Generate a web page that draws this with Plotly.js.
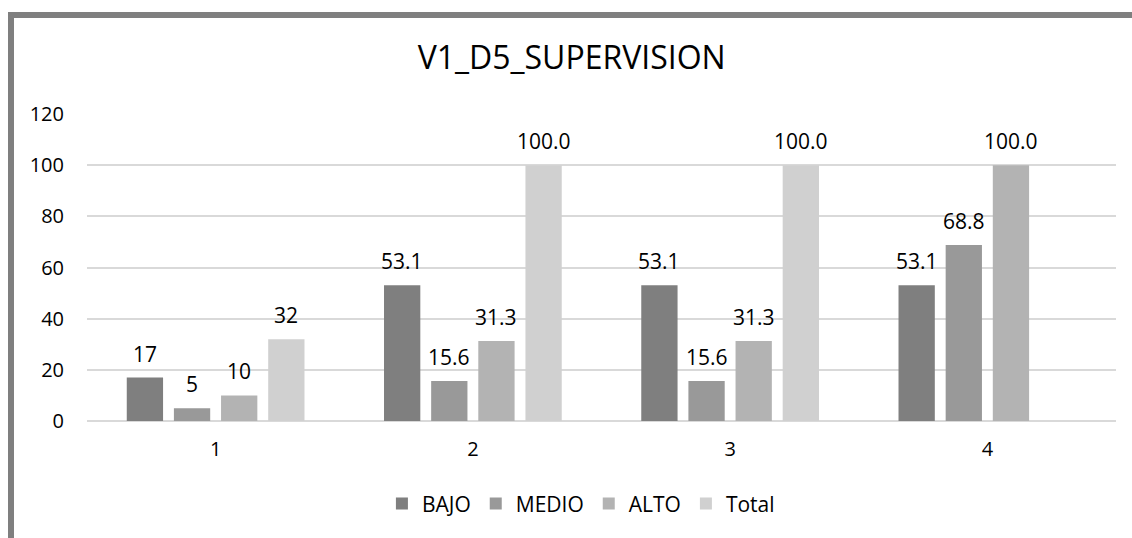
<!DOCTYPE html>
<html>
<head>
<meta charset="utf-8">
<script src="https://cdn.plot.ly/plotly-3.0.1.min.js"></script>
<style>
  html, body { margin: 0; padding: 0; background: #ffffff; }
  #wrap { position: relative; width: 1132px; height: 538px; overflow: hidden; }
  #chart { width: 1132px; height: 538px; }
  #frame { position: absolute; left: 8px; top: 12px; width: 1200px; height: 600px;
           border-left: 6px solid #7f7f7f; border-top: 6px solid #7f7f7f; pointer-events: none; }
</style>
</head>
<body>
<div id="wrap">
  <div id="chart"></div>
  <div id="frame"></div>
</div>
<script>
// ---- data ----
const categories = [1, 2, 3, 4];
const tickLabels = ["1", "2", "3", "4"];
const seriesNames = ["BAJO", "MEDIO", "ALTO", "Total"];
const bajo  = [17, 53.1, 53.1, 53.1];
const medio = [5, 15.6, 15.6, 68.8];
const alto  = [10, 31.3, 31.3, 100.0];
const total = [32, 100.0, 100.0, null];
const labelDecimals = [0, 1, 1, 1];
const colors = ["#7f7f7f", "#999999", "#b3b3b3", "#d0d0d0"];

const allSeries = [bajo, medio, alto, total];
const FONT = "Open Sans, Noto Sans, sans-serif";

const bargap = 0.267;
const bargroupgap = 0.23;

const traces = allSeries.map((vals, i) => ({
  type: "bar",
  name: seriesNames[i],
  x: categories,
  y: vals,
  marker: { color: colors[i] },
  hoverinfo: "x+y+name"
}));

// data labels placed above each bar, at the bar's slot centre (data units)
const slot = (1 - bargap) / allSeries.length;
const annotations = [];
allSeries.forEach((vals, i) => {
  const off = (i - (allSeries.length - 1) / 2) * slot;
  vals.forEach((v, j) => {
    if (v === null || v === undefined) return;
    annotations.push({
      x: categories[j] + off, y: v, xref: "x", yref: "y",
      text: v.toFixed(labelDecimals[j]),
      showarrow: false, yanchor: "bottom", yshift: 8,
      font: { family: FONT, size: 21, color: "#000000" }
    });
  });
});

const layout = {
  width: 1132, height: 538,
  margin: { l: 87, r: 16, t: 114, b: 117 },
  paper_bgcolor: "#ffffff", plot_bgcolor: "#ffffff",
  title: { text: "V1_D5_SUPERVISION", x: 0.505, xanchor: "center", y: 0.893, yanchor: "middle",
           font: { family: FONT, size: 32, color: "#000000" } },
  barmode: "group",
  bargap: bargap,
  bargroupgap: bargroupgap,
  showlegend: true,
  legend: { orientation: "h", x: 0.48, xanchor: "center", y: -0.27, yanchor: "middle",
            font: { family: FONT, size: 21, color: "#000000" }, traceorder: "normal" },
  xaxis: {
    range: [0.5, 4.5], tickmode: "array", tickvals: categories, ticktext: tickLabels,
    showgrid: false, zeroline: false, showline: false, ticks: "",
    ticklabelstandoff: 14,
    tickfont: { family: FONT, size: 20, color: "#000000" }
  },
  yaxis: {
    range: [0, 120], dtick: 20, tick0: 0,
    showgrid: true, gridcolor: "#d9d9d9", gridwidth: 2,
    zeroline: true, zerolinecolor: "#d9d9d9", zerolinewidth: 2,
    showline: false, ticks: "", ticklabelstandoff: 22,
    tickfont: { family: FONT, size: 20, color: "#000000" }
  },
  annotations: annotations
};

Plotly.newPlot("chart", traces, layout, { displayModeBar: false, staticPlot: true });
</script>
</body>
</html>
